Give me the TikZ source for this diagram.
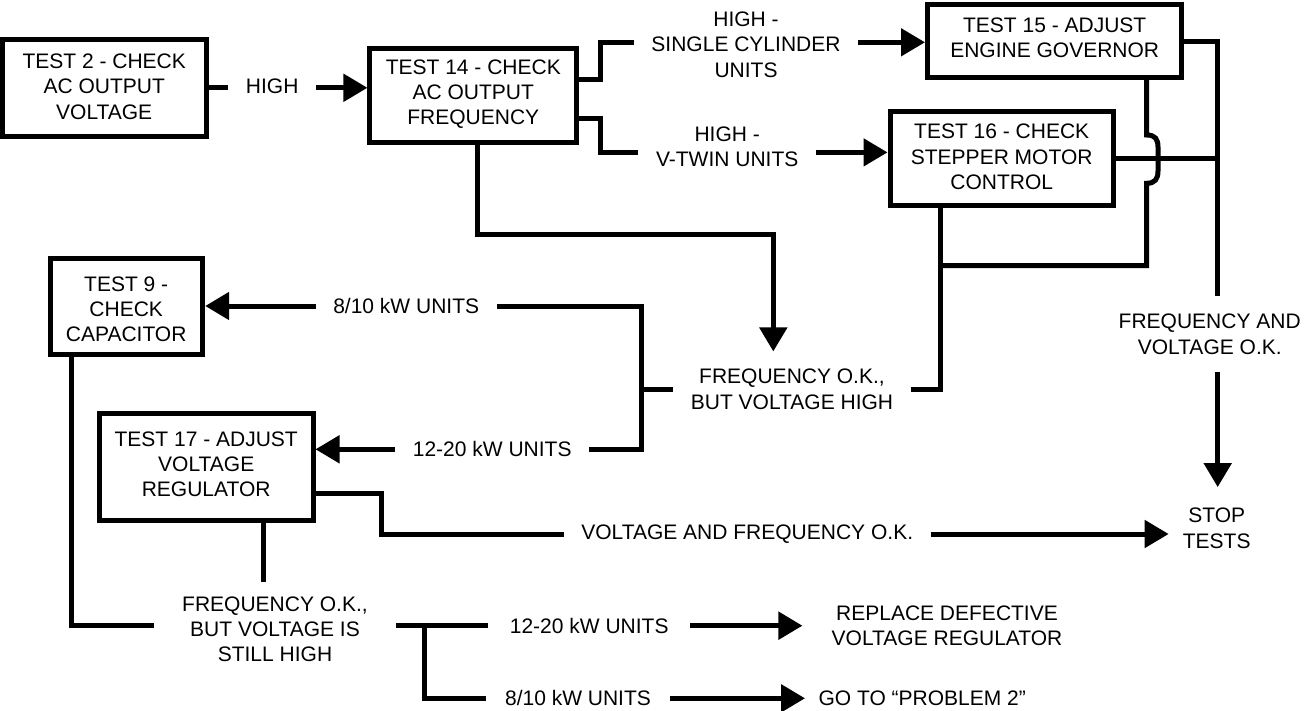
\documentclass[tikz,border=0pt]{standalone}
\usepackage{fontspec}
\setmainfont{Liberation Sans}
\usetikzlibrary{arrows.meta}
\begin{document}
\begin{tikzpicture}[x=1pt,y=-1pt,
  box/.style={draw,line width=5pt,inner sep=0pt},
  txt/.style={align=center,inner sep=0pt,font=\fontsize{21}{25.3}\selectfont},
  lbl/.style={txt,inner xsep=17.5pt,inner ysep=17.5pt},
  wire/.style={line width=5pt},
  arr/.style={wire,-{Triangle[length=24pt,width=27pt]}}]
\useasboundingbox (0,0) rectangle (1306,711);
% boxes
\node[box,minimum width=203.5pt,minimum height=97pt] (T2) at (104.25,87.8) {};
\node[txt] (T2t) at (104.2,86.65) {TEST 2 - CHECK\\AC OUTPUT\\VOLTAGE};
\node[box,minimum width=206.7pt,minimum height=93.9pt] (T14) at (473.3,95.75) {};
\node[txt] (T14t) at (473.3,94.15) {TEST 14 - CHECK\\AC OUTPUT\\FREQUENCY};
\node[box,minimum width=254.2pt,minimum height=72.7pt] (T15) at (1054.6,41.35) {};
\node[txt] (T15t) at (1054.7,37.6) {TEST 15 - ADJUST\\ENGINE GOVERNOR};
\node[box,minimum width=223.3pt,minimum height=93.5pt] (T16) at (1001.65,158.55) {};
\node[txt] (T16t) at (1001.7,156.85) {TEST 16 - CHECK\\STEPPER MOTOR\\CONTROL};
\node[box,minimum width=152.5pt,minimum height=95.3pt] (T9) at (126.45,306.35) {};
\node[txt] (T9t) at (126.2,309.2) {TEST 9 -\\CHECK\\CAPACITOR};
\node[box,minimum width=213.3pt,minimum height=107.3pt] (T17) at (206.35,467.15) {};
\node[txt] (T17t) at (206.2,464.25) {TEST 17 - ADJUST\\VOLTAGE\\REGULATOR};
% labels
\node[lbl] (high) at (272.2,86.7) {HIGH};
\node[lbl] (single) at (746,44.6) {HIGH -\\SINGLE CYLINDER\\UNITS};
\node[lbl] (vtwin) at (727.2,146.85) {HIGH -\\V-TWIN UNITS};
\node[lbl] (fav) at (1209.7,334.2) {FREQUENCY AND\\VOLTAGE O.K.};
\node[lbl,inner xsep=14pt,inner ysep=21pt] (stop) at (1216.7,528.4) {STOP\\TESTS};
\node[lbl] (fvh) at (792,389.25) {FREQUENCY O.K.,\\BUT VOLTAGE HIGH};
\node[lbl] (u810a) at (406.2,306) {8/10 kW UNITS};
\node[lbl] (u1220a) at (492.2,449.3) {12-20 kW UNITS};
\node[lbl] (vf) at (747.2,534) {VOLTAGE AND FREQUENCY O.K.};
\node[lbl,inner xsep=28pt,inner ysep=14pt] (fvs) at (275,629.2) {FREQUENCY O.K.,\\BUT VOLTAGE IS\\STILL HIGH};
\node[lbl,inner xsep=21.7pt] (u1220b) at (589.2,625.7) {12-20 kW UNITS};
\node[lbl,inner xsep=18.7pt] (u810b) at (578,698.3) {8/10 kW UNITS};
\node[lbl,inner xsep=29pt] (repl) at (947,625.5) {REPLACE DEFECTIVE\\VOLTAGE REGULATOR};
\node[lbl,inner xsep=13.3pt] (goto) at (922.2,698.3) {GO TO “PROBLEM 2”};
% helper coordinates
\coordinate (a1) at ([yshift=15.75pt]T14.east);
\coordinate (a2) at ([yshift=-22.55pt]T14.east);
\coordinate (a3) at ([xshift=4.4pt]T14.south);
\coordinate (a4) at ([xshift=-60.95pt]T16.south);
\coordinate (a5) at ([xshift=92.1pt]T15.south);
\coordinate (a6) at ([yshift=-26.15pt]T17.east);
\coordinate (a7) at ([xshift=56.95pt]T17.south);
\coordinate (a8) at ([xshift=-55.45pt]T9.south);
\coordinate (a9) at ([yshift=3.5pt]fvs.west);
\coordinate (a10) at ([yshift=3.5pt]fvs.east);
\coordinate (j1) at (600.7,42.3);
\coordinate (j2) at (600.7,152.4);
\coordinate (j3) at (773.3,234.3);
\coordinate (j5) at (641.7,306);
\coordinate (j6) at (641.7,449.3);
\coordinate (j7) at (940.7,265.7);
\coordinate (j8) at (1146.7,265.7);
\coordinate (j9) at (1217.7,0);
\coordinate (j10) at (381,534);
\coordinate (j11) at (424,0);
\coordinate (h1) at (1146.7,183.3);
\coordinate (h2) at (1158,171);
\coordinate (h3) at (1158,147);
\coordinate (h4) at (1146.7,135);
% connectors
\draw[wire] (T2.east) -- (T2.east -| high.west);
\draw[arr] (T2.east -| high.east) -- (T2.east -| T14.west);
\draw[wire] (a1) -| (j1) -- (j1 -| single.west);
\draw[arr] (j1 -| single.east) -- (j1 -| T15.west);
\draw[wire] (a2) -| (j2) -- (j2 -| vtwin.west);
\draw[arr] (j2 -| vtwin.east) -- (j2 -| T16.west);
\draw[arr] (a3) |- (j3) -- (j3 |- fvh.north);
\draw[wire] (fvh.west) -- (fvh.west -| j5);
\draw[wire] (u810a.east) -- (j5) -- (j6) -- (u1220a.east);
\draw[arr] (u810a.west) -- (u810a.west -| T9.east);
\draw[arr] (u1220a.west) -- (u1220a.west -| T17.east);
\draw[wire] (fvh.east) -| (a4);
\draw[wire] (j7) -- (j8) -- (h1) .. controls (1155,183.3) and (1158,179) .. (h2) -- (h3) .. controls (1158,139) and (1155,135) .. (h4) -- (a5);
\draw[wire] (T16.east) -- (T16.east -| j9);
\draw[wire] (T15.east) -| (j9 |- fav.north);
\draw[arr] (j9 |- fav.south) -- (j9 |- stop.north);
\draw[wire] (a6) -| (j10) -- (vf.west);
\draw[arr] (vf.east) -- (vf.east -| stop.west);
\draw[wire] (a7) -- (a7 |- fvs.north);
\draw[wire] (a8) |- (a9);
\draw[wire] (a10) -- (u1220b.west);
\draw[wire] (j11 |- a10) |- (u810b.west);
\draw[arr] (u1220b.east) -- (u1220b.east -| repl.west);
\draw[arr] (u810b.east) -- (u810b.east -| goto.west);
\end{tikzpicture}
\end{document}
